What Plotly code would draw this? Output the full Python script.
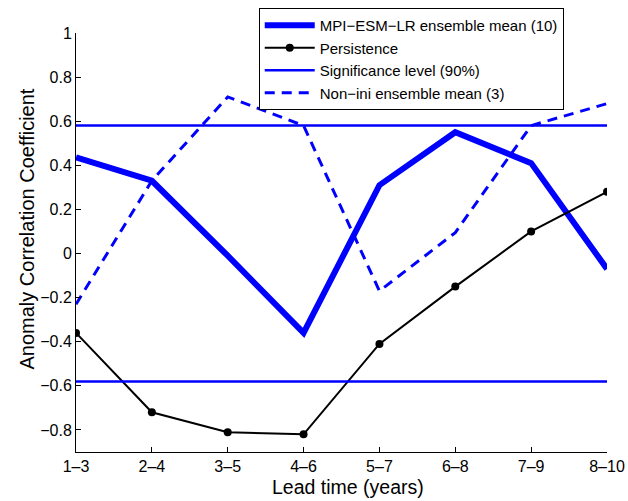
import plotly.graph_objects as go

# Lead-time windows and skill scores
lead_times = ["1\u20133", "2\u20134", "3\u20135", "4\u20136", "5\u20137", "6\u20138", "7\u20139", "8\u201310"]
mpi_mean = [0.436, 0.33, -0.01, -0.36, 0.31, 0.55, 0.41, -0.07]
persistence = [-0.36, -0.72, -0.81, -0.82, -0.41, -0.15, 0.10, 0.28]
significance = 0.58
nonini_mean = [-0.23, 0.33, 0.71, 0.58, -0.17, 0.095, 0.58, 0.68]

y_ticks = [-0.8, -0.6, -0.4, -0.2, 0, 0.2, 0.4, 0.6, 0.8, 1]
y_labels = ["\u22120.8", "\u22120.6", "\u22120.4", "\u22120.2", "0", "0.2", "0.4", "0.6", "0.8", "1"]

x = list(range(len(lead_times)))
blue = "#0000ff"

fig = go.Figure()
fig.add_trace(go.Scatter(x=x, y=mpi_mean, mode="lines", name="MPI\u2212ESM\u2212LR ensemble mean (10)",
                         legendgroup="a", line=dict(color=blue, width=6)))
fig.add_trace(go.Scatter(x=x, y=persistence, mode="lines+markers", name="Persistence",
                         legendgroup="b", line=dict(color="black", width=2),
                         marker=dict(color="black", size=8)))
fig.add_trace(go.Scatter(x=[x[0], x[-1]], y=[significance, significance], mode="lines",
                         name="Significance level (90%)", legendgroup="c",
                         line=dict(color=blue, width=2.5)))
fig.add_trace(go.Scatter(x=[x[0], x[-1]], y=[-significance, -significance], mode="lines",
                         showlegend=False, legendgroup="c", line=dict(color=blue, width=2.5)))
fig.add_trace(go.Scatter(x=x, y=nonini_mean, mode="lines", name="Non\u2212ini ensemble mean (3)",
                         legendgroup="d", line=dict(color=blue, width=3, dash="10px,7px")))

font = "Liberation Sans, Arial, Helvetica, sans-serif"
axis_style = dict(showline=True, linecolor="black", linewidth=1, ticks="inside", ticklen=5,
                  tickcolor="black", showgrid=False, zeroline=False, automargin=False)

fig.update_layout(
    width=628, height=501,
    margin=dict(l=76, r=21, t=33, b=49, autoexpand=False),
    plot_bgcolor="white", paper_bgcolor="white",
    font=dict(family=font, size=16, color="black"),
    showlegend=True,
    legend=dict(xref="container", yref="container", x=0.412, y=0.984,
                xanchor="left", yanchor="top",
                bgcolor="white", bordercolor="black", borderwidth=1,
                font=dict(size=15), tracegroupgap=0, itemwidth=50),
    xaxis=dict(range=[0, 7], tickmode="array", tickvals=x, ticktext=lead_times, **axis_style),
    yaxis=dict(range=[-0.9, 1], tickmode="array", tickvals=y_ticks, ticktext=y_labels, **axis_style),
    annotations=[
        dict(text="Lead time (years)", xref="paper", yref="paper", x=0.5126, y=-0.084,
             xanchor="center", yanchor="middle", showarrow=False, font=dict(size=19.5)),
        dict(text="Anomaly Correlation Coefficient", xref="paper", yref="paper",
             x=-0.0915, y=0.532, xanchor="center", yanchor="middle", textangle=-90,
             showarrow=False, font=dict(size=20)),
    ],
)

fig.write_html("out.html")
